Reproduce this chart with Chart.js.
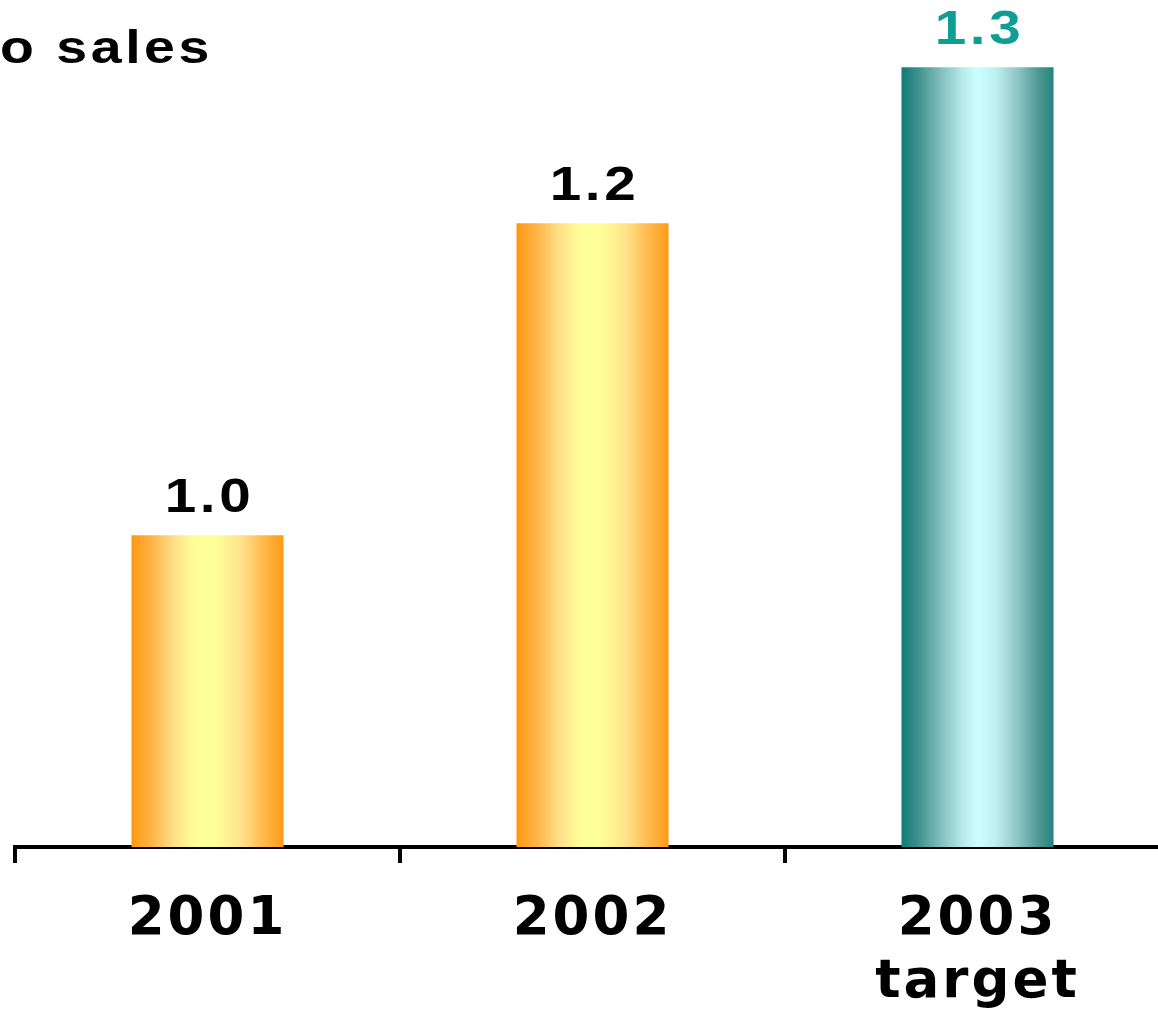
<!DOCTYPE html>
<html>
<head>
<meta charset="utf-8">
<script src="https://cdn.jsdelivr.net/npm/chart.js@4.4.1/dist/chart.umd.min.js"></script>
<style>
  html, body { margin: 0; padding: 0; background: #ffffff; overflow: hidden; }
  #wrap { position: absolute; left: 0; top: 0; width: 1170px; height: 1018px; }
</style>
</head>
<body>
<div id="wrap"><canvas id="chart" width="1170" height="1018"></canvas></div>
<script>
// Ratio to sales by year
const categories = [['2001'], ['2002'], ['2003', 'target']];
const ratioValues = [1.0, 1.2, 1.3];
const valueLabels = ['1.0', '1.2', '1.3'];
const titleText = 'o sales';

// Styling
const BAR_PCT = 0.395;
const TEXT_STRETCH = 1.18;   // wide lettering used for the annotations
const warmStops = [
  [0.00, '#ff9912'], [0.12, '#ffb040'], [0.28, '#ffe088'],
  [0.42, '#ffff99'], [0.55, '#ffff99'], [0.72, '#ffe38c'],
  [0.88, '#ffb648'], [1.00, '#ff9a14']
];
const coolStops = [
  [0.00, '#127b75'], [0.10, '#3a8e8a'], [0.25, '#7fbcbb'],
  [0.40, '#b8eaea'], [0.50, '#ccffff'], [0.62, '#bff0f0'],
  [0.76, '#8fc7c6'], [0.90, '#4f9894'], [1.00, '#23827d']
];
const barStops = [warmStops, warmStops, coolStops];
const labelColors = ['#000000', '#000000', '#0f9e95'];

function barGradient(c) {
  const chart = c.chart;
  const xs = chart.scales && chart.scales.x;
  const stops = barStops[c.dataIndex] || warmStops;
  if (!xs || c.type !== 'data') return stops[0][1];
  const cx = xs.getPixelForValue(c.dataIndex);
  const w = (xs.width / categories.length) * BAR_PCT;
  if (!isFinite(cx) || !isFinite(w) || w <= 0) return stops[0][1];
  const g = chart.ctx.createLinearGradient(cx - w / 2, 0, cx + w / 2, 0);
  stops.forEach(s => g.addColorStop(s[0], s[1]));
  return g;
}

// draw text stretched horizontally around its anchor x
function wideText(ctx, text, x, y, align) {
  ctx.save();
  ctx.translate(x, y);
  ctx.scale(TEXT_STRETCH, 1);
  ctx.textAlign = align;
  ctx.fillText(text, 0, 0);
  ctx.restore();
}

const decorations = {
  id: 'decorations',
  beforeDraw(chart) {
    chart.ctx.letterSpacing = '3px';
  },
  afterDatasetsDraw(chart) {
    const ctx = chart.ctx;
    const meta = chart.getDatasetMeta(0);
    ctx.save();
    ctx.letterSpacing = '3px';
    ctx.font = 'bold 48px "Liberation Sans"';
    ctx.textBaseline = 'alphabetic';
    meta.data.forEach((bar, i) => {
      ctx.fillStyle = labelColors[i];
      wideText(ctx, valueLabels[i], bar.x + 2, bar.y - 23, 'center');
    });
    ctx.restore();
  },
  afterDraw(chart) {
    const ctx = chart.ctx;
    ctx.save();
    ctx.letterSpacing = '3px';
    ctx.font = 'bold 47px "Liberation Sans"';
    ctx.fillStyle = '#000000';
    ctx.textBaseline = 'alphabetic';
    wideText(ctx, titleText, 0, 63, 'left');
    ctx.restore();
  }
};

const chart = new Chart(document.getElementById('chart'), {
  type: 'bar',
  data: {
    labels: categories,
    datasets: [{
      data: ratioValues,
      backgroundColor: barGradient,
      borderWidth: 0,
      categoryPercentage: 1.0,
      barPercentage: BAR_PCT
    }]
  },
  options: {
    responsive: false,
    animation: false,
    layout: { padding: { left: 15, right: 0, top: 5, bottom: 0 } },
    plugins: {
      legend: { display: false },
      tooltip: { enabled: false },
      title: { display: false }
    },
    scales: {
      x: {
        offset: true,
        border: { display: true, color: '#000000', width: 4 },
        grid: {
          offset: true,
          drawOnChartArea: false,
          drawTicks: true,
          tickLength: 16,
          tickWidth: 4,
          tickColor: '#000000',
          color: '#000000',
          lineWidth: 4
        },
        ticks: {
          color: '#000000',
          font: { family: '"DejaVu Sans"', weight: 'bold', size: 53, lineHeight: 1.19 },
          padding: 26,
          maxRotation: 0,
          autoSkip: false
        },
        afterFit(scale) { scale.height = 171; }
      },
      y: {
        display: false,
        min: 0.8,
        max: 1.34
      }
    }
  },
  plugins: [decorations]
});
// re-run once so the bar gradients use the laid-out scale
chart.update('none');
</script>
</body>
</html>
